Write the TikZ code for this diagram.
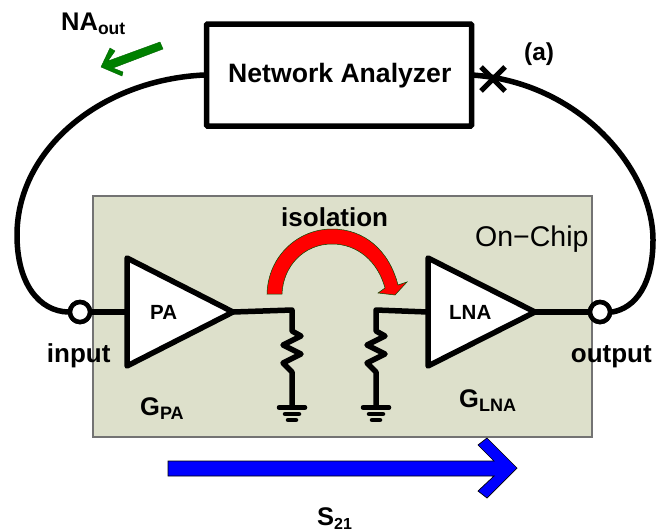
\documentclass[tikz,border=0pt]{standalone}
\usetikzlibrary{calc}
\usepackage{fontspec}
\setmainfont{Liberation Sans}
\newcommand{\fs}[1]{\fontsize{#1}{#1}\selectfont}
\tikzset{
  x=1pt,y=-1pt,
  wire/.style={line width=5.5pt,line join=round,line cap=round,black},
  lead/.style={line width=5.5pt,black},
  amp/.style={line width=5.5pt,line join=round,fill=white,draw=black},
  port/.style={circle,draw=black,fill=white,line width=4.5pt,minimum size=20pt,inner sep=0pt},
  lab/.style={anchor=base west,inner sep=0pt,text=black},
  gnd/.style={line width=4.5pt,line cap=round,black},
}
\begin{document}
\begin{tikzpicture}
\useasboundingbox (0,0) rectangle (668,531);
\fill[white] (0,0) rectangle (668,531);
% chip
\draw[draw=black!55,line width=1.5pt,fill={rgb,255:red,221;green,224;blue,203}] (93,196) rectangle (592,437);
% instrument
\node[draw=black,fill=white,line width=5.5pt,rounded corners=1pt,minimum width=265pt,minimum height=102pt,inner sep=0pt] (na) at (339,75) {};
\node[lab,font=\bfseries\fs{26.6}] (natext) at (228,82.6) {Network Analyzer};
% ports
\coordinate (naL) at (204,75);
\coordinate (naR) at (472,75);
\coordinate (cross) at (493,79);
\node[port] (inp) at (80,312) {};
\node[port] (outp) at (600,312) {};
% cables
\draw[wire] (naL) .. controls (100,80) and (17,150) .. (17,235) .. controls (17,285) and (40,311) .. (inp.west);
\draw[wire] (naR) .. controls (580,82) and (653,170) .. (653,240) .. controls (653,285) and (635,308) .. (outp.east);
% cross
\draw[line width=5pt,black] ($(cross)+(-12,-12)$) -- ($(cross)+(12,12)$);
\draw[line width=5pt,black] ($(cross)+(-12,12)$) -- ($(cross)+(12,-12)$);
% amplifiers
\coordinate (paIn) at (127,312); \coordinate (paOut) at (233,312);
\coordinate (lnaIn) at (428,312); \coordinate (lnaOut) at (535,312);
\coordinate (r1top) at (292,310); \coordinate (r2top) at (376,310);
\draw[lead] (inp.east) -- (paIn);
\draw[lead] (lnaOut) -- (outp.west);
\node[port] at (80,312) {};
\node[port] at (600,312) {};
\draw[wire] (paOut) -- (r1top) -- ++(0,21) -- ++(9,5) -- ++(-18,9) -- ++(18,9) -- ++(-18,9) -- (292,372) -- (292,407);
\draw[wire] (lnaIn) -- (r2top) -- ++(0,21) -- ++(9,5) -- ++(-18,9) -- ++(18,9) -- ++(-18,9) -- (376,372) -- (376,407);
\draw[amp] (127,258) -- (233,312) -- (127,366) -- cycle;
\draw[amp] (428,258) -- (535,312) -- (428,366) -- cycle;
% grounds
\draw[gnd] (279,407.5) -- (305,407.5);
\draw[gnd] (285,414) -- (299,414);
\draw[gnd] (288,420) -- (296,420);
\draw[gnd] (363,407.5) -- (389,407.5);
\draw[gnd] (369,414) -- (383,414);
\draw[gnd] (372,420) -- (380,420);
% isolation arrow
\draw[draw=black!70!green,line width=0.5pt,fill=red] (267,294) .. controls (268,256) and (298,229) .. (332,229)
  .. controls (364,229) and (389,250) .. (398,285) -- (407,282) -- (395,295) -- (378,293) -- (385,288)
  .. controls (378,262) and (358,244) .. (332,244) .. controls (304,244) and (283,266) .. (282,294) -- cycle;
% S21 arrow
\draw[draw=black,line width=0.7pt,fill={rgb,255:red,0;green,0;blue,255}] (168,461) -- (494,461) -- (478,445) -- (487,438) -- (517,468) -- (487,498) -- (478,491) -- (494,476) -- (168,476) -- cycle;
% NA out arrow
\draw[draw=black!60!green,line width=0.4pt,fill={rgb,255:red,0;green,128;blue,0}] (160,42) -- (108,61) -- (115,51) -- (110,48) -- (101,67) -- (122,76) -- (123,72) -- (113,68) -- (163,49) -- cycle;
% labels
\node[lab,font=\bfseries\fs{25.5}] (lNA) at (61,30) {NA\raisebox{-4pt}{\fs{17.5}out}};
\node[lab,font=\bfseries\fs{24.5}] (la) at (524,60) {(a)};
\node[lab,font=\bfseries\fs{26}] (liso) at (281,226.7) {isolation};
\node[lab,font=\fs{28.5}] (lchip) at (475,246) {On−Chip};
\node[lab,font=\bfseries\fs{26}] (lin) at (46.7,362) {input};
\node[lab,font=\bfseries\fs{26}] (lout) at (570.7,362) {output};
\node[lab,font=\bfseries\fs{20.5}] (lpa) at (150,319) {PA};
\node[lab,font=\bfseries\fs{20.5}] (llna) at (449,319) {LNA};
\node[lab,font=\bfseries\fs{25.5}] (lgpa) at (140,415) {G\raisebox{-4pt}{\fs{18}PA}};
\node[lab,font=\bfseries\fs{25.5}] (lglna) at (459,407) {G\raisebox{-4pt}{\fs{18}LNA}};
\node[lab,font=\bfseries\fs{25.5}] (ls) at (317,525) {S\raisebox{-4pt}{\fs{16}21}};
\end{tikzpicture}
\end{document}
